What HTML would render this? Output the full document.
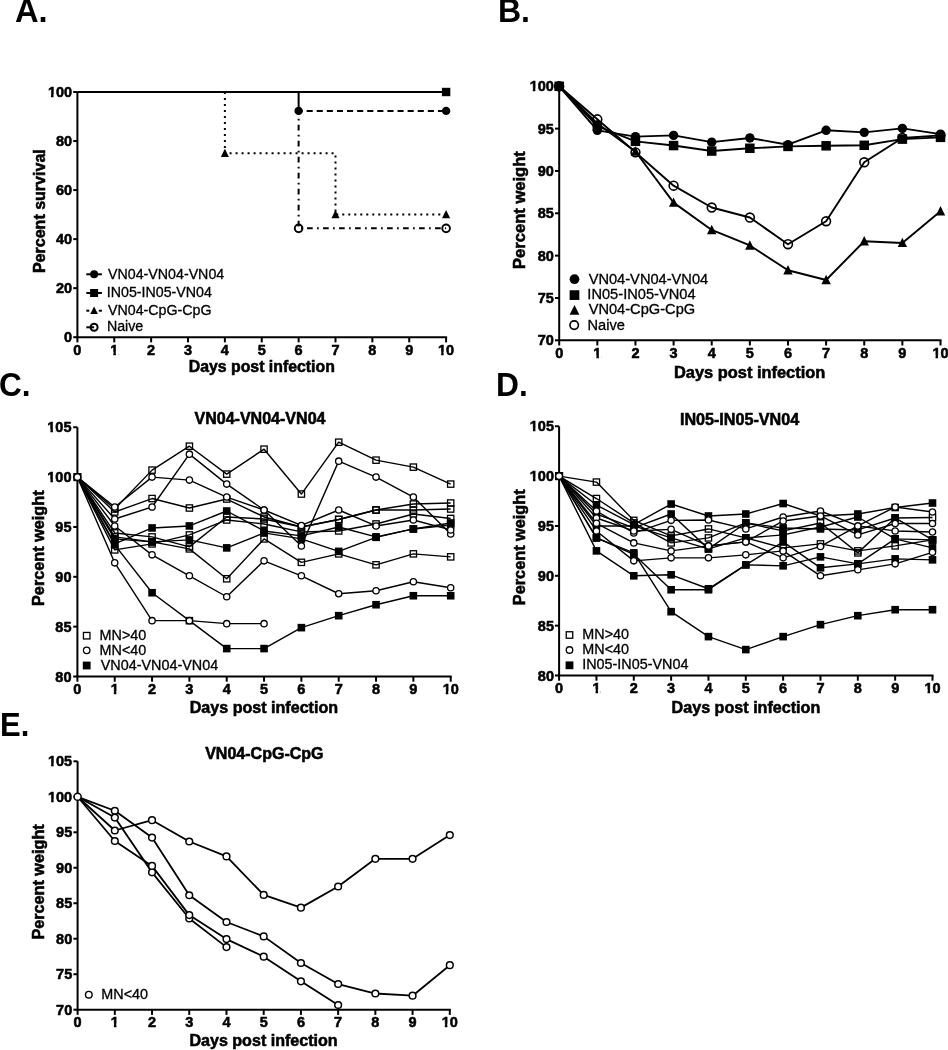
<!DOCTYPE html>
<html><head><meta charset="utf-8"><style>
html,body{margin:0;padding:0;background:#fff;}
body{width:948px;height:1050px;overflow:hidden;}
svg{display:block;filter:grayscale(1);}
text{font-family:"Liberation Sans",sans-serif;fill:#000;}
</style></head><body>
<svg width="948" height="1050" viewBox="0 0 948 1050" font-family="Liberation Sans, sans-serif">
<rect width="948" height="1050" fill="#fff"/>
<text x="14.89" y="22.2" font-size="33" font-weight="bold" textLength="32.66" lengthAdjust="spacingAndGlyphs">A.</text>
<text x="497.96" y="22.2" font-size="33" font-weight="bold" textLength="32.05" lengthAdjust="spacingAndGlyphs">B.</text>
<text x="-0.99" y="395.8" font-size="33" font-weight="bold" textLength="31.57" lengthAdjust="spacingAndGlyphs">C.</text>
<text x="496.08" y="396.2" font-size="33" font-weight="bold" textLength="31.7" lengthAdjust="spacingAndGlyphs">D.</text>
<text x="0.12" y="735.9" font-size="33" font-weight="bold" textLength="29.31" lengthAdjust="spacingAndGlyphs">E.</text>
<line x1="77.4" y1="92" x2="77.4" y2="342.4" stroke="#000" stroke-width="2"/>
<line x1="76.4" y1="337.2" x2="447.1" y2="337.2" stroke="#000" stroke-width="2"/>
<line x1="73.2" y1="337.2" x2="77.4" y2="337.2" stroke="#000" stroke-width="2"/>
<text x="0" y="0" transform="translate(72.1,342.3) scale(1,1.06)" font-size="14.5" font-weight="bold" text-anchor="end" stroke="#000" stroke-width="0.55">0</text>
<line x1="73.2" y1="288.16" x2="77.4" y2="288.16" stroke="#000" stroke-width="2"/>
<text x="0" y="0" transform="translate(72.1,293.26) scale(1,1.06)" font-size="14.5" font-weight="bold" text-anchor="end" stroke="#000" stroke-width="0.55">20</text>
<line x1="73.2" y1="239.12" x2="77.4" y2="239.12" stroke="#000" stroke-width="2"/>
<text x="0" y="0" transform="translate(72.1,244.22) scale(1,1.06)" font-size="14.5" font-weight="bold" text-anchor="end" stroke="#000" stroke-width="0.55">40</text>
<line x1="73.2" y1="190.08" x2="77.4" y2="190.08" stroke="#000" stroke-width="2"/>
<text x="0" y="0" transform="translate(72.1,195.18) scale(1,1.06)" font-size="14.5" font-weight="bold" text-anchor="end" stroke="#000" stroke-width="0.55">60</text>
<line x1="73.2" y1="141.04" x2="77.4" y2="141.04" stroke="#000" stroke-width="2"/>
<text x="0" y="0" transform="translate(72.1,146.14) scale(1,1.06)" font-size="14.5" font-weight="bold" text-anchor="end" stroke="#000" stroke-width="0.55">80</text>
<line x1="73.2" y1="92" x2="77.4" y2="92" stroke="#000" stroke-width="2"/>
<text x="0" y="0" transform="translate(72.1,97.1) scale(1,1.06)" font-size="14.5" font-weight="bold" text-anchor="end" stroke="#000" stroke-width="0.55">100</text>
<text x="0" y="0" transform="translate(77.4,354.6) scale(1,1.06)" font-size="14.5" font-weight="bold" text-anchor="middle" stroke="#000" stroke-width="0.55">0</text>
<line x1="114.27" y1="337.2" x2="114.27" y2="342.4" stroke="#000" stroke-width="2"/>
<text x="0" y="0" transform="translate(114.27,354.6) scale(1,1.06)" font-size="14.5" font-weight="bold" text-anchor="middle" stroke="#000" stroke-width="0.55">1</text>
<line x1="151.14" y1="337.2" x2="151.14" y2="342.4" stroke="#000" stroke-width="2"/>
<text x="0" y="0" transform="translate(151.14,354.6) scale(1,1.06)" font-size="14.5" font-weight="bold" text-anchor="middle" stroke="#000" stroke-width="0.55">2</text>
<line x1="188.01" y1="337.2" x2="188.01" y2="342.4" stroke="#000" stroke-width="2"/>
<text x="0" y="0" transform="translate(188.01,354.6) scale(1,1.06)" font-size="14.5" font-weight="bold" text-anchor="middle" stroke="#000" stroke-width="0.55">3</text>
<line x1="224.88" y1="337.2" x2="224.88" y2="342.4" stroke="#000" stroke-width="2"/>
<text x="0" y="0" transform="translate(224.88,354.6) scale(1,1.06)" font-size="14.5" font-weight="bold" text-anchor="middle" stroke="#000" stroke-width="0.55">4</text>
<line x1="261.75" y1="337.2" x2="261.75" y2="342.4" stroke="#000" stroke-width="2"/>
<text x="0" y="0" transform="translate(261.75,354.6) scale(1,1.06)" font-size="14.5" font-weight="bold" text-anchor="middle" stroke="#000" stroke-width="0.55">5</text>
<line x1="298.62" y1="337.2" x2="298.62" y2="342.4" stroke="#000" stroke-width="2"/>
<text x="0" y="0" transform="translate(298.62,354.6) scale(1,1.06)" font-size="14.5" font-weight="bold" text-anchor="middle" stroke="#000" stroke-width="0.55">6</text>
<line x1="335.49" y1="337.2" x2="335.49" y2="342.4" stroke="#000" stroke-width="2"/>
<text x="0" y="0" transform="translate(335.49,354.6) scale(1,1.06)" font-size="14.5" font-weight="bold" text-anchor="middle" stroke="#000" stroke-width="0.55">7</text>
<line x1="372.36" y1="337.2" x2="372.36" y2="342.4" stroke="#000" stroke-width="2"/>
<text x="0" y="0" transform="translate(372.36,354.6) scale(1,1.06)" font-size="14.5" font-weight="bold" text-anchor="middle" stroke="#000" stroke-width="0.55">8</text>
<line x1="409.23" y1="337.2" x2="409.23" y2="342.4" stroke="#000" stroke-width="2"/>
<text x="0" y="0" transform="translate(409.23,354.6) scale(1,1.06)" font-size="14.5" font-weight="bold" text-anchor="middle" stroke="#000" stroke-width="0.55">9</text>
<line x1="446.1" y1="337.2" x2="446.1" y2="342.4" stroke="#000" stroke-width="2"/>
<text x="0" y="0" transform="translate(446.1,354.6) scale(1,1.06)" font-size="14.5" font-weight="bold" text-anchor="middle" stroke="#000" stroke-width="0.55">10</text>
<text transform="translate(44.7,273.07) rotate(-90)" font-size="16" font-weight="bold" textLength="123.81" lengthAdjust="spacingAndGlyphs" stroke="#000" stroke-width="0.55">Percent survival</text>
<text x="188.74" y="372.2" font-size="16" font-weight="bold" textLength="146.14" lengthAdjust="spacingAndGlyphs" stroke="#000" stroke-width="0.55">Days post infection</text>
<line x1="77.4" y1="92" x2="446.1" y2="92" stroke="#000" stroke-width="2"/>
<line x1="298.62" y1="92" x2="298.62" y2="110.88" stroke="#000" stroke-width="2"/>
<line x1="298.62" y1="110.88" x2="446.1" y2="110.88" stroke="#000" stroke-width="2" stroke-dasharray="6.1 4" stroke-dashoffset="2.1"/>
<polyline points="224.88,92 224.88,153.3 335.49,153.3 335.49,214.6 446.1,214.6" fill="none" stroke="#000" stroke-width="2" stroke-linejoin="round" stroke-dasharray="2 4" stroke-linejoin="miter"/>
<polyline points="298.62,110.88 298.62,228.33 446.1,228.33" fill="none" stroke="#000" stroke-width="2" stroke-linejoin="round" stroke-dasharray="1.7 4.3 5.7 4.3" stroke-dashoffset="-7.85"/>
<rect x="441.9" y="87.8" width="8.4" height="8.4" fill="#000"/>
<circle cx="298.62" cy="110.88" r="4.2" fill="#000"/>
<circle cx="446.1" cy="110.88" r="4.2" fill="#000"/>
<path d="M224.88 148.8L228.93 156.9L220.83 156.9Z" fill="#000"/>
<path d="M335.49 210.1L339.54 218.2L331.44 218.2Z" fill="#000"/>
<path d="M446.1 210.1L450.15 218.2L442.05 218.2Z" fill="#000"/>
<circle cx="298.62" cy="228.33" r="3.85" fill="none" stroke="#000" stroke-width="1.9"/>
<circle cx="446.1" cy="228.33" r="3.85" fill="none" stroke="#000" stroke-width="1.9"/>
<line x1="86.3" y1="274.3" x2="101.9" y2="274.3" stroke="#000" stroke-width="2"/>
<circle cx="94.1" cy="274.3" r="4" fill="#000"/>
<line x1="86.3" y1="293" x2="101.9" y2="293" stroke="#000" stroke-width="2"/>
<rect x="90.1" y="289" width="8" height="8" fill="#000"/>
<line x1="86.3" y1="310.7" x2="89.3" y2="310.7" stroke="#000" stroke-width="2"/>
<line x1="98.8" y1="310.7" x2="101.9" y2="310.7" stroke="#000" stroke-width="2"/>
<path d="M94.1 306.45L97.92 314.1L90.27 314.1Z" fill="#000"/>
<line x1="86.3" y1="327.3" x2="94.1" y2="327.3" stroke="#000" stroke-width="2"/>
<circle cx="94.1" cy="327.3" r="3.5" fill="none" stroke="#000" stroke-width="2"/>
<text x="108.04" y="278.7" font-size="14.23" font-weight="normal" stroke="#000" stroke-width="0.3">VN04-VN04-VN04</text>
<text x="106.79" y="297.4" font-size="14.23" font-weight="normal" stroke="#000" stroke-width="0.3">IN05-IN05-VN04</text>
<text x="108.04" y="314.7" font-size="14.23" font-weight="normal" stroke="#000" stroke-width="0.3">VN04-CpG-CpG</text>
<text x="106.93" y="331.4" font-size="14.23" font-weight="normal" stroke="#000" stroke-width="0.3">Naive</text>
<line x1="559.2" y1="86.29" x2="559.2" y2="345.5" stroke="#000" stroke-width="2"/>
<line x1="558.2" y1="340.3" x2="941.5" y2="340.3" stroke="#000" stroke-width="2"/>
<line x1="555" y1="340.3" x2="559.2" y2="340.3" stroke="#000" stroke-width="2"/>
<text x="0" y="0" transform="translate(553.9,345.4) scale(1,1.06)" font-size="14.5" font-weight="bold" text-anchor="end" stroke="#000" stroke-width="0.55">70</text>
<line x1="555" y1="297.97" x2="559.2" y2="297.97" stroke="#000" stroke-width="2"/>
<text x="0" y="0" transform="translate(553.9,303.07) scale(1,1.06)" font-size="14.5" font-weight="bold" text-anchor="end" stroke="#000" stroke-width="0.55">75</text>
<line x1="555" y1="255.63" x2="559.2" y2="255.63" stroke="#000" stroke-width="2"/>
<text x="0" y="0" transform="translate(553.9,260.73) scale(1,1.06)" font-size="14.5" font-weight="bold" text-anchor="end" stroke="#000" stroke-width="0.55">80</text>
<line x1="555" y1="213.3" x2="559.2" y2="213.3" stroke="#000" stroke-width="2"/>
<text x="0" y="0" transform="translate(553.9,218.4) scale(1,1.06)" font-size="14.5" font-weight="bold" text-anchor="end" stroke="#000" stroke-width="0.55">85</text>
<line x1="555" y1="170.96" x2="559.2" y2="170.96" stroke="#000" stroke-width="2"/>
<text x="0" y="0" transform="translate(553.9,176.06) scale(1,1.06)" font-size="14.5" font-weight="bold" text-anchor="end" stroke="#000" stroke-width="0.55">90</text>
<line x1="555" y1="128.62" x2="559.2" y2="128.62" stroke="#000" stroke-width="2"/>
<text x="0" y="0" transform="translate(553.9,133.72) scale(1,1.06)" font-size="14.5" font-weight="bold" text-anchor="end" stroke="#000" stroke-width="0.55">95</text>
<line x1="555" y1="86.29" x2="559.2" y2="86.29" stroke="#000" stroke-width="2"/>
<text x="0" y="0" transform="translate(553.9,91.39) scale(1,1.06)" font-size="14.5" font-weight="bold" text-anchor="end" stroke="#000" stroke-width="0.55">100</text>
<text x="0" y="0" transform="translate(559.2,358.2) scale(1,1.06)" font-size="14.5" font-weight="bold" text-anchor="middle" stroke="#000" stroke-width="0.55">0</text>
<line x1="597.33" y1="340.3" x2="597.33" y2="345.5" stroke="#000" stroke-width="2"/>
<text x="0" y="0" transform="translate(597.33,358.2) scale(1,1.06)" font-size="14.5" font-weight="bold" text-anchor="middle" stroke="#000" stroke-width="0.55">1</text>
<line x1="635.46" y1="340.3" x2="635.46" y2="345.5" stroke="#000" stroke-width="2"/>
<text x="0" y="0" transform="translate(635.46,358.2) scale(1,1.06)" font-size="14.5" font-weight="bold" text-anchor="middle" stroke="#000" stroke-width="0.55">2</text>
<line x1="673.59" y1="340.3" x2="673.59" y2="345.5" stroke="#000" stroke-width="2"/>
<text x="0" y="0" transform="translate(673.59,358.2) scale(1,1.06)" font-size="14.5" font-weight="bold" text-anchor="middle" stroke="#000" stroke-width="0.55">3</text>
<line x1="711.72" y1="340.3" x2="711.72" y2="345.5" stroke="#000" stroke-width="2"/>
<text x="0" y="0" transform="translate(711.72,358.2) scale(1,1.06)" font-size="14.5" font-weight="bold" text-anchor="middle" stroke="#000" stroke-width="0.55">4</text>
<line x1="749.85" y1="340.3" x2="749.85" y2="345.5" stroke="#000" stroke-width="2"/>
<text x="0" y="0" transform="translate(749.85,358.2) scale(1,1.06)" font-size="14.5" font-weight="bold" text-anchor="middle" stroke="#000" stroke-width="0.55">5</text>
<line x1="787.98" y1="340.3" x2="787.98" y2="345.5" stroke="#000" stroke-width="2"/>
<text x="0" y="0" transform="translate(787.98,358.2) scale(1,1.06)" font-size="14.5" font-weight="bold" text-anchor="middle" stroke="#000" stroke-width="0.55">6</text>
<line x1="826.11" y1="340.3" x2="826.11" y2="345.5" stroke="#000" stroke-width="2"/>
<text x="0" y="0" transform="translate(826.11,358.2) scale(1,1.06)" font-size="14.5" font-weight="bold" text-anchor="middle" stroke="#000" stroke-width="0.55">7</text>
<line x1="864.24" y1="340.3" x2="864.24" y2="345.5" stroke="#000" stroke-width="2"/>
<text x="0" y="0" transform="translate(864.24,358.2) scale(1,1.06)" font-size="14.5" font-weight="bold" text-anchor="middle" stroke="#000" stroke-width="0.55">8</text>
<line x1="902.37" y1="340.3" x2="902.37" y2="345.5" stroke="#000" stroke-width="2"/>
<text x="0" y="0" transform="translate(902.37,358.2) scale(1,1.06)" font-size="14.5" font-weight="bold" text-anchor="middle" stroke="#000" stroke-width="0.55">9</text>
<line x1="940.5" y1="340.3" x2="940.5" y2="345.5" stroke="#000" stroke-width="2"/>
<text x="0" y="0" transform="translate(940.5,358.2) scale(1,1.06)" font-size="14.5" font-weight="bold" text-anchor="middle" stroke="#000" stroke-width="0.55">10</text>
<text transform="translate(525.1,269.01) rotate(-90)" font-size="16" font-weight="bold" textLength="117.91" lengthAdjust="spacingAndGlyphs" stroke="#000" stroke-width="0.55">Percent weight</text>
<text x="673.9" y="377.7" font-size="16" font-weight="bold" textLength="151.42" lengthAdjust="spacingAndGlyphs" stroke="#000" stroke-width="0.55">Days post infection</text>
<polyline points="559.2,86.29 597.33,130.32 635.46,136.58 673.59,135.4 711.72,142.17 749.85,137.94 787.98,144.71 826.11,130.32 864.24,132.35 902.37,128.37 940.5,134.13" fill="none" stroke="#000" stroke-width="1.9" stroke-linejoin="round"/>
<polyline points="559.2,86.29 597.33,126.08 635.46,141.33 673.59,145.56 711.72,151.06 749.85,148.27 787.98,146.41 826.11,145.81 864.24,145.3 902.37,139.12 940.5,137.35" fill="none" stroke="#000" stroke-width="1.9" stroke-linejoin="round"/>
<polyline points="559.2,86.29 597.33,119.31 635.46,152.33 673.59,185.69 711.72,207.54 749.85,217.53 787.98,244.2 826.11,221.25 864.24,162.24 902.37,137.94 940.5,135.4" fill="none" stroke="#000" stroke-width="1.9" stroke-linejoin="round"/>
<polyline points="559.2,86.29 597.33,123.54 635.46,151.49 673.59,202.63 711.72,229.97 749.85,245.47 787.98,270.28 826.11,280.01 864.24,241.24 902.37,242.93 940.5,211.26" fill="none" stroke="#000" stroke-width="1.9" stroke-linejoin="round"/>
<circle cx="559.2" cy="86.29" r="4.7" fill="#000"/>
<circle cx="597.33" cy="130.32" r="4.7" fill="#000"/>
<circle cx="635.46" cy="136.58" r="4.7" fill="#000"/>
<circle cx="673.59" cy="135.4" r="4.7" fill="#000"/>
<circle cx="711.72" cy="142.17" r="4.7" fill="#000"/>
<circle cx="749.85" cy="137.94" r="4.7" fill="#000"/>
<circle cx="787.98" cy="144.71" r="4.7" fill="#000"/>
<circle cx="826.11" cy="130.32" r="4.7" fill="#000"/>
<circle cx="864.24" cy="132.35" r="4.7" fill="#000"/>
<circle cx="902.37" cy="128.37" r="4.7" fill="#000"/>
<circle cx="940.5" cy="134.13" r="4.7" fill="#000"/>
<rect x="554.45" y="81.54" width="9.5" height="9.5" fill="#000"/>
<rect x="592.58" y="121.33" width="9.5" height="9.5" fill="#000"/>
<rect x="630.71" y="136.58" width="9.5" height="9.5" fill="#000"/>
<rect x="668.84" y="140.81" width="9.5" height="9.5" fill="#000"/>
<rect x="706.97" y="146.31" width="9.5" height="9.5" fill="#000"/>
<rect x="745.1" y="143.52" width="9.5" height="9.5" fill="#000"/>
<rect x="783.23" y="141.66" width="9.5" height="9.5" fill="#000"/>
<rect x="821.36" y="141.06" width="9.5" height="9.5" fill="#000"/>
<rect x="859.49" y="140.55" width="9.5" height="9.5" fill="#000"/>
<rect x="897.62" y="134.37" width="9.5" height="9.5" fill="#000"/>
<rect x="935.75" y="132.6" width="9.5" height="9.5" fill="#000"/>
<circle cx="559.2" cy="86.29" r="4.4" fill="none" stroke="#000" stroke-width="1.6"/>
<circle cx="597.33" cy="119.31" r="4.4" fill="none" stroke="#000" stroke-width="1.6"/>
<circle cx="635.46" cy="152.33" r="4.4" fill="none" stroke="#000" stroke-width="1.6"/>
<circle cx="673.59" cy="185.69" r="4.4" fill="none" stroke="#000" stroke-width="1.6"/>
<circle cx="711.72" cy="207.54" r="4.4" fill="none" stroke="#000" stroke-width="1.6"/>
<circle cx="749.85" cy="217.53" r="4.4" fill="none" stroke="#000" stroke-width="1.6"/>
<circle cx="787.98" cy="244.2" r="4.4" fill="none" stroke="#000" stroke-width="1.6"/>
<circle cx="826.11" cy="221.25" r="4.4" fill="none" stroke="#000" stroke-width="1.6"/>
<circle cx="864.24" cy="162.24" r="4.4" fill="none" stroke="#000" stroke-width="1.6"/>
<circle cx="902.37" cy="137.94" r="4.4" fill="none" stroke="#000" stroke-width="1.6"/>
<circle cx="940.5" cy="135.4" r="4.4" fill="none" stroke="#000" stroke-width="1.6"/>
<path d="M559.2 81.09L563.88 90.45L554.52 90.45Z" fill="#000"/>
<path d="M597.33 118.34L602.01 127.7L592.65 127.7Z" fill="#000"/>
<path d="M635.46 146.29L640.14 155.65L630.78 155.65Z" fill="#000"/>
<path d="M673.59 197.43L678.27 206.79L668.91 206.79Z" fill="#000"/>
<path d="M711.72 224.77L716.4 234.13L707.04 234.13Z" fill="#000"/>
<path d="M749.85 240.27L754.53 249.63L745.17 249.63Z" fill="#000"/>
<path d="M787.98 265.08L792.66 274.44L783.3 274.44Z" fill="#000"/>
<path d="M826.11 274.81L830.79 284.17L821.43 284.17Z" fill="#000"/>
<path d="M864.24 236.04L868.92 245.4L859.56 245.4Z" fill="#000"/>
<path d="M902.37 237.73L907.05 247.09L897.69 247.09Z" fill="#000"/>
<path d="M940.5 206.06L945.18 215.42L935.82 215.42Z" fill="#000"/>
<circle cx="574.5" cy="279.2" r="4.85" fill="#000"/>
<rect x="569.65" y="290.25" width="9.7" height="9.7" fill="#000"/>
<path d="M574.5 305.1L579.36 314.82L569.64 314.82Z" fill="#000"/>
<circle cx="574.2" cy="325.1" r="4.25" fill="none" stroke="#000" stroke-width="1.6"/>
<text x="0" y="0" transform="translate(588.64,283.7) scale(1,1.06)" font-size="14.64" font-weight="normal" stroke="#000" stroke-width="0.3">VN04-VN04-VN04</text>
<text x="0" y="0" transform="translate(587.35,299.3) scale(1,1.06)" font-size="14.64" font-weight="normal" stroke="#000" stroke-width="0.3">IN05-IN05-VN04</text>
<text x="0" y="0" transform="translate(588.64,314.4) scale(1,1.06)" font-size="14.64" font-weight="normal" stroke="#000" stroke-width="0.3">VN04-CpG-CpG</text>
<text x="0" y="0" transform="translate(587.5,329.5) scale(1,1.06)" font-size="14.64" font-weight="normal" stroke="#000" stroke-width="0.3">Naive</text>
<line x1="77.4" y1="427.25" x2="77.4" y2="681.7" stroke="#000" stroke-width="2"/>
<line x1="76.4" y1="676.5" x2="451.7" y2="676.5" stroke="#000" stroke-width="2"/>
<line x1="73.2" y1="676.5" x2="77.4" y2="676.5" stroke="#000" stroke-width="2"/>
<text x="0" y="0" transform="translate(71.5,681.6) scale(1,1.06)" font-size="14.5" font-weight="bold" text-anchor="end" stroke="#000" stroke-width="0.55">80</text>
<line x1="73.2" y1="626.65" x2="77.4" y2="626.65" stroke="#000" stroke-width="2"/>
<text x="0" y="0" transform="translate(71.5,631.75) scale(1,1.06)" font-size="14.5" font-weight="bold" text-anchor="end" stroke="#000" stroke-width="0.55">85</text>
<line x1="73.2" y1="576.8" x2="77.4" y2="576.8" stroke="#000" stroke-width="2"/>
<text x="0" y="0" transform="translate(71.5,581.9) scale(1,1.06)" font-size="14.5" font-weight="bold" text-anchor="end" stroke="#000" stroke-width="0.55">90</text>
<line x1="73.2" y1="526.95" x2="77.4" y2="526.95" stroke="#000" stroke-width="2"/>
<text x="0" y="0" transform="translate(71.5,532.05) scale(1,1.06)" font-size="14.5" font-weight="bold" text-anchor="end" stroke="#000" stroke-width="0.55">95</text>
<line x1="73.2" y1="477.1" x2="77.4" y2="477.1" stroke="#000" stroke-width="2"/>
<text x="0" y="0" transform="translate(71.5,482.2) scale(1,1.06)" font-size="14.5" font-weight="bold" text-anchor="end" stroke="#000" stroke-width="0.55">100</text>
<line x1="73.2" y1="427.25" x2="77.4" y2="427.25" stroke="#000" stroke-width="2"/>
<text x="0" y="0" transform="translate(71.5,432.35) scale(1,1.06)" font-size="14.5" font-weight="bold" text-anchor="end" stroke="#000" stroke-width="0.55">105</text>
<text x="0" y="0" transform="translate(77.4,694) scale(1,1.06)" font-size="14.5" font-weight="bold" text-anchor="middle" stroke="#000" stroke-width="0.55">0</text>
<line x1="114.73" y1="676.5" x2="114.73" y2="681.7" stroke="#000" stroke-width="2"/>
<text x="0" y="0" transform="translate(114.73,694) scale(1,1.06)" font-size="14.5" font-weight="bold" text-anchor="middle" stroke="#000" stroke-width="0.55">1</text>
<line x1="152.06" y1="676.5" x2="152.06" y2="681.7" stroke="#000" stroke-width="2"/>
<text x="0" y="0" transform="translate(152.06,694) scale(1,1.06)" font-size="14.5" font-weight="bold" text-anchor="middle" stroke="#000" stroke-width="0.55">2</text>
<line x1="189.39" y1="676.5" x2="189.39" y2="681.7" stroke="#000" stroke-width="2"/>
<text x="0" y="0" transform="translate(189.39,694) scale(1,1.06)" font-size="14.5" font-weight="bold" text-anchor="middle" stroke="#000" stroke-width="0.55">3</text>
<line x1="226.72" y1="676.5" x2="226.72" y2="681.7" stroke="#000" stroke-width="2"/>
<text x="0" y="0" transform="translate(226.72,694) scale(1,1.06)" font-size="14.5" font-weight="bold" text-anchor="middle" stroke="#000" stroke-width="0.55">4</text>
<line x1="264.05" y1="676.5" x2="264.05" y2="681.7" stroke="#000" stroke-width="2"/>
<text x="0" y="0" transform="translate(264.05,694) scale(1,1.06)" font-size="14.5" font-weight="bold" text-anchor="middle" stroke="#000" stroke-width="0.55">5</text>
<line x1="301.38" y1="676.5" x2="301.38" y2="681.7" stroke="#000" stroke-width="2"/>
<text x="0" y="0" transform="translate(301.38,694) scale(1,1.06)" font-size="14.5" font-weight="bold" text-anchor="middle" stroke="#000" stroke-width="0.55">6</text>
<line x1="338.71" y1="676.5" x2="338.71" y2="681.7" stroke="#000" stroke-width="2"/>
<text x="0" y="0" transform="translate(338.71,694) scale(1,1.06)" font-size="14.5" font-weight="bold" text-anchor="middle" stroke="#000" stroke-width="0.55">7</text>
<line x1="376.04" y1="676.5" x2="376.04" y2="681.7" stroke="#000" stroke-width="2"/>
<text x="0" y="0" transform="translate(376.04,694) scale(1,1.06)" font-size="14.5" font-weight="bold" text-anchor="middle" stroke="#000" stroke-width="0.55">8</text>
<line x1="413.37" y1="676.5" x2="413.37" y2="681.7" stroke="#000" stroke-width="2"/>
<text x="0" y="0" transform="translate(413.37,694) scale(1,1.06)" font-size="14.5" font-weight="bold" text-anchor="middle" stroke="#000" stroke-width="0.55">9</text>
<line x1="450.7" y1="676.5" x2="450.7" y2="681.7" stroke="#000" stroke-width="2"/>
<text x="0" y="0" transform="translate(450.7,694) scale(1,1.06)" font-size="14.5" font-weight="bold" text-anchor="middle" stroke="#000" stroke-width="0.55">10</text>
<text transform="translate(44.1,605.99) rotate(-90)" font-size="16" font-weight="bold" textLength="115.59" lengthAdjust="spacingAndGlyphs" stroke="#000" stroke-width="0.55">Percent weight</text>
<text x="189.72" y="712.6" font-size="16" font-weight="bold" textLength="148.37" lengthAdjust="spacingAndGlyphs" stroke="#000" stroke-width="0.55">Days post infection</text>
<text x="194.49" y="424" font-size="16" font-weight="bold" textLength="131" lengthAdjust="spacingAndGlyphs" stroke="#000" stroke-width="0.55">VN04-VN04-VN04</text>
<polyline points="77.4,477.1 114.73,509 152.06,470.12 189.39,446.19 226.72,474.11 264.05,449.18 301.38,494.05 338.71,442.2 376.04,460.15 413.37,467.13 450.7,484.08" fill="none" stroke="#000" stroke-width="1.4" stroke-linejoin="round"/>
<polyline points="77.4,477.1 114.73,512 152.06,498.54 189.39,508.01 226.72,499.03 264.05,516.98 301.38,526.95 338.71,519.47 376.04,510 413.37,504.02 450.7,503.02" fill="none" stroke="#000" stroke-width="1.4" stroke-linejoin="round"/>
<polyline points="77.4,477.1 114.73,549.88 152.06,543.9 189.39,534.93 226.72,519.97 264.05,523.96 301.38,531.93 338.71,530.94 376.04,523.96 413.37,513.99 450.7,518.48" fill="none" stroke="#000" stroke-width="1.4" stroke-linejoin="round"/>
<polyline points="77.4,477.1 114.73,532.93 152.06,536.92 189.39,546.89 226.72,516.98 264.05,518.97 301.38,526.95 338.71,519.47 376.04,510 413.37,510 450.7,509" fill="none" stroke="#000" stroke-width="1.4" stroke-linejoin="round"/>
<polyline points="77.4,477.1 114.73,536.92 152.06,541.9 189.39,548.88 226.72,578.79 264.05,538.91 301.38,562.34 338.71,553.87 376.04,564.84 413.37,553.87 450.7,556.86" fill="none" stroke="#000" stroke-width="1.4" stroke-linejoin="round"/>
<polyline points="77.4,477.1 114.73,543.9 152.06,527.95 189.39,525.95 226.72,511 264.05,530.94 301.38,535.92 338.71,526.95 376.04,536.92 413.37,528.94 450.7,522.96" fill="none" stroke="#000" stroke-width="1.4" stroke-linejoin="round"/>
<polyline points="77.4,477.1 114.73,538.91 152.06,541.9 189.39,539.91 226.72,547.89 264.05,532.93 301.38,538.91 338.71,551.38 376.04,537.32 413.37,528.94 450.7,524.96" fill="none" stroke="#000" stroke-width="1.4" stroke-linejoin="round"/>
<polyline points="77.4,477.1 114.73,544.9 152.06,592.75 189.39,620.67 226.72,648.58 264.05,648.58 301.38,627.65 338.71,615.68 376.04,604.72 413.37,595.74 450.7,595.74" fill="none" stroke="#000" stroke-width="1.4" stroke-linejoin="round"/>
<polyline points="77.4,477.1 114.73,507.01 152.06,477.1 189.39,480.09 226.72,497.04 264.05,510 301.38,545.89 338.71,461.15 376.04,477.1 413.37,497.04 450.7,533.93" fill="none" stroke="#000" stroke-width="1.4" stroke-linejoin="round"/>
<polyline points="77.4,477.1 114.73,518.97 152.06,507.01 189.39,454.17 226.72,484.08 264.05,510 301.38,525.45 338.71,510 376.04,525.95 413.37,519.97 450.7,529.94" fill="none" stroke="#000" stroke-width="1.4" stroke-linejoin="round"/>
<polyline points="77.4,477.1 114.73,562.84 152.06,620.67 189.39,620.67 226.72,623.66 264.05,623.66" fill="none" stroke="#000" stroke-width="1.4" stroke-linejoin="round"/>
<polyline points="77.4,477.1 114.73,525.95 152.06,554.87 189.39,575.8 226.72,596.74 264.05,560.85 301.38,575.8 338.71,593.75 376.04,590.76 413.37,581.78 450.7,587.77" fill="none" stroke="#000" stroke-width="1.4" stroke-linejoin="round"/>
<rect x="111.58" y="505.85" width="6.3" height="6.3" fill="none" stroke="#000" stroke-width="1.3"/>
<rect x="148.91" y="466.97" width="6.3" height="6.3" fill="none" stroke="#000" stroke-width="1.3"/>
<rect x="186.24" y="443.04" width="6.3" height="6.3" fill="none" stroke="#000" stroke-width="1.3"/>
<rect x="223.57" y="470.96" width="6.3" height="6.3" fill="none" stroke="#000" stroke-width="1.3"/>
<rect x="260.9" y="446.03" width="6.3" height="6.3" fill="none" stroke="#000" stroke-width="1.3"/>
<rect x="298.23" y="490.9" width="6.3" height="6.3" fill="none" stroke="#000" stroke-width="1.3"/>
<rect x="335.56" y="439.06" width="6.3" height="6.3" fill="none" stroke="#000" stroke-width="1.3"/>
<rect x="372.89" y="457" width="6.3" height="6.3" fill="none" stroke="#000" stroke-width="1.3"/>
<rect x="410.22" y="463.98" width="6.3" height="6.3" fill="none" stroke="#000" stroke-width="1.3"/>
<rect x="447.55" y="480.93" width="6.3" height="6.3" fill="none" stroke="#000" stroke-width="1.3"/>
<rect x="111.58" y="508.85" width="6.3" height="6.3" fill="none" stroke="#000" stroke-width="1.3"/>
<rect x="148.91" y="495.39" width="6.3" height="6.3" fill="none" stroke="#000" stroke-width="1.3"/>
<rect x="186.24" y="504.86" width="6.3" height="6.3" fill="none" stroke="#000" stroke-width="1.3"/>
<rect x="223.57" y="495.88" width="6.3" height="6.3" fill="none" stroke="#000" stroke-width="1.3"/>
<rect x="260.9" y="513.83" width="6.3" height="6.3" fill="none" stroke="#000" stroke-width="1.3"/>
<rect x="298.23" y="523.8" width="6.3" height="6.3" fill="none" stroke="#000" stroke-width="1.3"/>
<rect x="335.56" y="516.32" width="6.3" height="6.3" fill="none" stroke="#000" stroke-width="1.3"/>
<rect x="372.89" y="506.85" width="6.3" height="6.3" fill="none" stroke="#000" stroke-width="1.3"/>
<rect x="410.22" y="500.87" width="6.3" height="6.3" fill="none" stroke="#000" stroke-width="1.3"/>
<rect x="447.55" y="499.87" width="6.3" height="6.3" fill="none" stroke="#000" stroke-width="1.3"/>
<rect x="111.58" y="546.73" width="6.3" height="6.3" fill="none" stroke="#000" stroke-width="1.3"/>
<rect x="148.91" y="540.75" width="6.3" height="6.3" fill="none" stroke="#000" stroke-width="1.3"/>
<rect x="186.24" y="531.78" width="6.3" height="6.3" fill="none" stroke="#000" stroke-width="1.3"/>
<rect x="223.57" y="516.82" width="6.3" height="6.3" fill="none" stroke="#000" stroke-width="1.3"/>
<rect x="260.9" y="520.81" width="6.3" height="6.3" fill="none" stroke="#000" stroke-width="1.3"/>
<rect x="298.23" y="528.78" width="6.3" height="6.3" fill="none" stroke="#000" stroke-width="1.3"/>
<rect x="335.56" y="527.79" width="6.3" height="6.3" fill="none" stroke="#000" stroke-width="1.3"/>
<rect x="372.89" y="520.81" width="6.3" height="6.3" fill="none" stroke="#000" stroke-width="1.3"/>
<rect x="410.22" y="510.84" width="6.3" height="6.3" fill="none" stroke="#000" stroke-width="1.3"/>
<rect x="447.55" y="515.33" width="6.3" height="6.3" fill="none" stroke="#000" stroke-width="1.3"/>
<rect x="111.58" y="529.78" width="6.3" height="6.3" fill="none" stroke="#000" stroke-width="1.3"/>
<rect x="148.91" y="533.77" width="6.3" height="6.3" fill="none" stroke="#000" stroke-width="1.3"/>
<rect x="186.24" y="543.74" width="6.3" height="6.3" fill="none" stroke="#000" stroke-width="1.3"/>
<rect x="223.57" y="513.83" width="6.3" height="6.3" fill="none" stroke="#000" stroke-width="1.3"/>
<rect x="260.9" y="515.82" width="6.3" height="6.3" fill="none" stroke="#000" stroke-width="1.3"/>
<rect x="298.23" y="523.8" width="6.3" height="6.3" fill="none" stroke="#000" stroke-width="1.3"/>
<rect x="335.56" y="516.32" width="6.3" height="6.3" fill="none" stroke="#000" stroke-width="1.3"/>
<rect x="372.89" y="506.85" width="6.3" height="6.3" fill="none" stroke="#000" stroke-width="1.3"/>
<rect x="410.22" y="506.85" width="6.3" height="6.3" fill="none" stroke="#000" stroke-width="1.3"/>
<rect x="447.55" y="505.85" width="6.3" height="6.3" fill="none" stroke="#000" stroke-width="1.3"/>
<rect x="111.58" y="533.77" width="6.3" height="6.3" fill="none" stroke="#000" stroke-width="1.3"/>
<rect x="148.91" y="538.75" width="6.3" height="6.3" fill="none" stroke="#000" stroke-width="1.3"/>
<rect x="186.24" y="545.73" width="6.3" height="6.3" fill="none" stroke="#000" stroke-width="1.3"/>
<rect x="223.57" y="575.64" width="6.3" height="6.3" fill="none" stroke="#000" stroke-width="1.3"/>
<rect x="260.9" y="535.76" width="6.3" height="6.3" fill="none" stroke="#000" stroke-width="1.3"/>
<rect x="298.23" y="559.19" width="6.3" height="6.3" fill="none" stroke="#000" stroke-width="1.3"/>
<rect x="335.56" y="550.72" width="6.3" height="6.3" fill="none" stroke="#000" stroke-width="1.3"/>
<rect x="372.89" y="561.69" width="6.3" height="6.3" fill="none" stroke="#000" stroke-width="1.3"/>
<rect x="410.22" y="550.72" width="6.3" height="6.3" fill="none" stroke="#000" stroke-width="1.3"/>
<rect x="447.55" y="553.71" width="6.3" height="6.3" fill="none" stroke="#000" stroke-width="1.3"/>
<rect x="110.93" y="540.1" width="7.6" height="7.6" fill="#000"/>
<rect x="148.26" y="524.15" width="7.6" height="7.6" fill="#000"/>
<rect x="185.59" y="522.15" width="7.6" height="7.6" fill="#000"/>
<rect x="222.92" y="507.2" width="7.6" height="7.6" fill="#000"/>
<rect x="260.25" y="527.14" width="7.6" height="7.6" fill="#000"/>
<rect x="297.58" y="532.12" width="7.6" height="7.6" fill="#000"/>
<rect x="334.91" y="523.15" width="7.6" height="7.6" fill="#000"/>
<rect x="372.24" y="533.12" width="7.6" height="7.6" fill="#000"/>
<rect x="409.57" y="525.14" width="7.6" height="7.6" fill="#000"/>
<rect x="446.9" y="519.16" width="7.6" height="7.6" fill="#000"/>
<rect x="110.93" y="535.11" width="7.6" height="7.6" fill="#000"/>
<rect x="148.26" y="538.11" width="7.6" height="7.6" fill="#000"/>
<rect x="185.59" y="536.11" width="7.6" height="7.6" fill="#000"/>
<rect x="222.92" y="544.09" width="7.6" height="7.6" fill="#000"/>
<rect x="260.25" y="529.13" width="7.6" height="7.6" fill="#000"/>
<rect x="297.58" y="535.11" width="7.6" height="7.6" fill="#000"/>
<rect x="334.91" y="547.58" width="7.6" height="7.6" fill="#000"/>
<rect x="372.24" y="533.52" width="7.6" height="7.6" fill="#000"/>
<rect x="409.57" y="525.14" width="7.6" height="7.6" fill="#000"/>
<rect x="446.9" y="521.16" width="7.6" height="7.6" fill="#000"/>
<rect x="110.93" y="541.1" width="7.6" height="7.6" fill="#000"/>
<rect x="148.26" y="588.95" width="7.6" height="7.6" fill="#000"/>
<rect x="185.59" y="616.87" width="7.6" height="7.6" fill="#000"/>
<rect x="222.92" y="644.78" width="7.6" height="7.6" fill="#000"/>
<rect x="260.25" y="644.78" width="7.6" height="7.6" fill="#000"/>
<rect x="297.58" y="623.85" width="7.6" height="7.6" fill="#000"/>
<rect x="334.91" y="611.88" width="7.6" height="7.6" fill="#000"/>
<rect x="372.24" y="600.92" width="7.6" height="7.6" fill="#000"/>
<rect x="409.57" y="591.94" width="7.6" height="7.6" fill="#000"/>
<rect x="446.9" y="591.94" width="7.6" height="7.6" fill="#000"/>
<circle cx="114.73" cy="507.01" r="3.15" fill="#fff" stroke="#000" stroke-width="1.3"/>
<circle cx="152.06" cy="477.1" r="3.15" fill="#fff" stroke="#000" stroke-width="1.3"/>
<circle cx="189.39" cy="480.09" r="3.15" fill="#fff" stroke="#000" stroke-width="1.3"/>
<circle cx="226.72" cy="497.04" r="3.15" fill="#fff" stroke="#000" stroke-width="1.3"/>
<circle cx="264.05" cy="510" r="3.15" fill="#fff" stroke="#000" stroke-width="1.3"/>
<circle cx="301.38" cy="545.89" r="3.15" fill="#fff" stroke="#000" stroke-width="1.3"/>
<circle cx="338.71" cy="461.15" r="3.15" fill="#fff" stroke="#000" stroke-width="1.3"/>
<circle cx="376.04" cy="477.1" r="3.15" fill="#fff" stroke="#000" stroke-width="1.3"/>
<circle cx="413.37" cy="497.04" r="3.15" fill="#fff" stroke="#000" stroke-width="1.3"/>
<circle cx="450.7" cy="533.93" r="3.15" fill="#fff" stroke="#000" stroke-width="1.3"/>
<circle cx="114.73" cy="518.97" r="3.15" fill="#fff" stroke="#000" stroke-width="1.3"/>
<circle cx="152.06" cy="507.01" r="3.15" fill="#fff" stroke="#000" stroke-width="1.3"/>
<circle cx="189.39" cy="454.17" r="3.15" fill="#fff" stroke="#000" stroke-width="1.3"/>
<circle cx="226.72" cy="484.08" r="3.15" fill="#fff" stroke="#000" stroke-width="1.3"/>
<circle cx="264.05" cy="510" r="3.15" fill="#fff" stroke="#000" stroke-width="1.3"/>
<circle cx="301.38" cy="525.45" r="3.15" fill="#fff" stroke="#000" stroke-width="1.3"/>
<circle cx="338.71" cy="510" r="3.15" fill="#fff" stroke="#000" stroke-width="1.3"/>
<circle cx="376.04" cy="525.95" r="3.15" fill="#fff" stroke="#000" stroke-width="1.3"/>
<circle cx="413.37" cy="519.97" r="3.15" fill="#fff" stroke="#000" stroke-width="1.3"/>
<circle cx="450.7" cy="529.94" r="3.15" fill="#fff" stroke="#000" stroke-width="1.3"/>
<circle cx="114.73" cy="562.84" r="3.15" fill="#fff" stroke="#000" stroke-width="1.3"/>
<circle cx="152.06" cy="620.67" r="3.15" fill="#fff" stroke="#000" stroke-width="1.3"/>
<circle cx="189.39" cy="620.67" r="3.15" fill="#fff" stroke="#000" stroke-width="1.3"/>
<circle cx="226.72" cy="623.66" r="3.15" fill="#fff" stroke="#000" stroke-width="1.3"/>
<circle cx="264.05" cy="623.66" r="3.15" fill="#fff" stroke="#000" stroke-width="1.3"/>
<circle cx="114.73" cy="525.95" r="3.15" fill="#fff" stroke="#000" stroke-width="1.3"/>
<circle cx="152.06" cy="554.87" r="3.15" fill="#fff" stroke="#000" stroke-width="1.3"/>
<circle cx="189.39" cy="575.8" r="3.15" fill="#fff" stroke="#000" stroke-width="1.3"/>
<circle cx="226.72" cy="596.74" r="3.15" fill="#fff" stroke="#000" stroke-width="1.3"/>
<circle cx="264.05" cy="560.85" r="3.15" fill="#fff" stroke="#000" stroke-width="1.3"/>
<circle cx="301.38" cy="575.8" r="3.15" fill="#fff" stroke="#000" stroke-width="1.3"/>
<circle cx="338.71" cy="593.75" r="3.15" fill="#fff" stroke="#000" stroke-width="1.3"/>
<circle cx="376.04" cy="590.76" r="3.15" fill="#fff" stroke="#000" stroke-width="1.3"/>
<circle cx="413.37" cy="581.78" r="3.15" fill="#fff" stroke="#000" stroke-width="1.3"/>
<circle cx="450.7" cy="587.77" r="3.15" fill="#fff" stroke="#000" stroke-width="1.3"/>
<rect x="73.3" y="473" width="8.2" height="8.2" fill="#000"/>
<circle cx="77.4" cy="477.1" r="3.35" fill="#fff" stroke="#000" stroke-width="1.3"/>
<rect x="83.45" y="632.45" width="6.5" height="6.5" fill="none" stroke="#000" stroke-width="1.3"/>
<circle cx="86.7" cy="650.3" r="3.25" fill="#fff" stroke="#000" stroke-width="1.3"/>
<rect x="82.8" y="661.6" width="7.8" height="7.8" fill="#000"/>
<text x="99.62" y="639.9" font-size="14.38" font-weight="normal" stroke="#000" stroke-width="0.3">MN&gt;40</text>
<text x="99.62" y="654.6" font-size="14.38" font-weight="normal" stroke="#000" stroke-width="0.3">MN&lt;40</text>
<text x="100.74" y="669.5" font-size="14.38" font-weight="normal" stroke="#000" stroke-width="0.3">VN04-VN04-VN04</text>
<line x1="559.1" y1="426.25" x2="559.1" y2="680.7" stroke="#000" stroke-width="2"/>
<line x1="558.1" y1="675.5" x2="933.5" y2="675.5" stroke="#000" stroke-width="2"/>
<line x1="554.9" y1="675.5" x2="559.1" y2="675.5" stroke="#000" stroke-width="2"/>
<text x="0" y="0" transform="translate(554,680.6) scale(1,1.06)" font-size="14.5" font-weight="bold" text-anchor="end" stroke="#000" stroke-width="0.55">80</text>
<line x1="554.9" y1="625.65" x2="559.1" y2="625.65" stroke="#000" stroke-width="2"/>
<text x="0" y="0" transform="translate(554,630.75) scale(1,1.06)" font-size="14.5" font-weight="bold" text-anchor="end" stroke="#000" stroke-width="0.55">85</text>
<line x1="554.9" y1="575.8" x2="559.1" y2="575.8" stroke="#000" stroke-width="2"/>
<text x="0" y="0" transform="translate(554,580.9) scale(1,1.06)" font-size="14.5" font-weight="bold" text-anchor="end" stroke="#000" stroke-width="0.55">90</text>
<line x1="554.9" y1="525.95" x2="559.1" y2="525.95" stroke="#000" stroke-width="2"/>
<text x="0" y="0" transform="translate(554,531.05) scale(1,1.06)" font-size="14.5" font-weight="bold" text-anchor="end" stroke="#000" stroke-width="0.55">95</text>
<line x1="554.9" y1="476.1" x2="559.1" y2="476.1" stroke="#000" stroke-width="2"/>
<text x="0" y="0" transform="translate(554,481.2) scale(1,1.06)" font-size="14.5" font-weight="bold" text-anchor="end" stroke="#000" stroke-width="0.55">100</text>
<line x1="554.9" y1="426.25" x2="559.1" y2="426.25" stroke="#000" stroke-width="2"/>
<text x="0" y="0" transform="translate(554,431.35) scale(1,1.06)" font-size="14.5" font-weight="bold" text-anchor="end" stroke="#000" stroke-width="0.55">105</text>
<text x="0" y="0" transform="translate(559.1,692.6) scale(1,1.06)" font-size="14.5" font-weight="bold" text-anchor="middle" stroke="#000" stroke-width="0.55">0</text>
<line x1="596.44" y1="675.5" x2="596.44" y2="680.7" stroke="#000" stroke-width="2"/>
<text x="0" y="0" transform="translate(596.44,692.6) scale(1,1.06)" font-size="14.5" font-weight="bold" text-anchor="middle" stroke="#000" stroke-width="0.55">1</text>
<line x1="633.78" y1="675.5" x2="633.78" y2="680.7" stroke="#000" stroke-width="2"/>
<text x="0" y="0" transform="translate(633.78,692.6) scale(1,1.06)" font-size="14.5" font-weight="bold" text-anchor="middle" stroke="#000" stroke-width="0.55">2</text>
<line x1="671.12" y1="675.5" x2="671.12" y2="680.7" stroke="#000" stroke-width="2"/>
<text x="0" y="0" transform="translate(671.12,692.6) scale(1,1.06)" font-size="14.5" font-weight="bold" text-anchor="middle" stroke="#000" stroke-width="0.55">3</text>
<line x1="708.46" y1="675.5" x2="708.46" y2="680.7" stroke="#000" stroke-width="2"/>
<text x="0" y="0" transform="translate(708.46,692.6) scale(1,1.06)" font-size="14.5" font-weight="bold" text-anchor="middle" stroke="#000" stroke-width="0.55">4</text>
<line x1="745.8" y1="675.5" x2="745.8" y2="680.7" stroke="#000" stroke-width="2"/>
<text x="0" y="0" transform="translate(745.8,692.6) scale(1,1.06)" font-size="14.5" font-weight="bold" text-anchor="middle" stroke="#000" stroke-width="0.55">5</text>
<line x1="783.14" y1="675.5" x2="783.14" y2="680.7" stroke="#000" stroke-width="2"/>
<text x="0" y="0" transform="translate(783.14,692.6) scale(1,1.06)" font-size="14.5" font-weight="bold" text-anchor="middle" stroke="#000" stroke-width="0.55">6</text>
<line x1="820.48" y1="675.5" x2="820.48" y2="680.7" stroke="#000" stroke-width="2"/>
<text x="0" y="0" transform="translate(820.48,692.6) scale(1,1.06)" font-size="14.5" font-weight="bold" text-anchor="middle" stroke="#000" stroke-width="0.55">7</text>
<line x1="857.82" y1="675.5" x2="857.82" y2="680.7" stroke="#000" stroke-width="2"/>
<text x="0" y="0" transform="translate(857.82,692.6) scale(1,1.06)" font-size="14.5" font-weight="bold" text-anchor="middle" stroke="#000" stroke-width="0.55">8</text>
<line x1="895.16" y1="675.5" x2="895.16" y2="680.7" stroke="#000" stroke-width="2"/>
<text x="0" y="0" transform="translate(895.16,692.6) scale(1,1.06)" font-size="14.5" font-weight="bold" text-anchor="middle" stroke="#000" stroke-width="0.55">9</text>
<line x1="932.5" y1="675.5" x2="932.5" y2="680.7" stroke="#000" stroke-width="2"/>
<text x="0" y="0" transform="translate(932.5,692.6) scale(1,1.06)" font-size="14.5" font-weight="bold" text-anchor="middle" stroke="#000" stroke-width="0.55">10</text>
<text transform="translate(525.1,605.19) rotate(-90)" font-size="16" font-weight="bold" textLength="115.89" lengthAdjust="spacingAndGlyphs" stroke="#000" stroke-width="0.55">Percent weight</text>
<text x="671.62" y="712.7" font-size="16" font-weight="bold" textLength="148.68" lengthAdjust="spacingAndGlyphs" stroke="#000" stroke-width="0.55">Days post infection</text>
<text x="679.92" y="424.8" font-size="16" font-weight="bold" textLength="119.27" lengthAdjust="spacingAndGlyphs" stroke="#000" stroke-width="0.55">IN05-IN05-VN04</text>
<polyline points="559.1,476.1 596.44,482.08 633.78,520.37 671.12,535.92 708.46,528.94 745.8,537.91 783.14,547.88 820.48,543.9 857.82,550.88 895.16,545.89 932.5,539.91" fill="none" stroke="#000" stroke-width="1.4" stroke-linejoin="round"/>
<polyline points="559.1,476.1 596.44,498.53 633.78,522.96 671.12,542.9 708.46,537.91 745.8,522.96 783.14,530.93 820.48,522.96 857.82,552.87 895.16,517.97 932.5,517.48" fill="none" stroke="#000" stroke-width="1.4" stroke-linejoin="round"/>
<polyline points="559.1,476.1 596.44,505.01 633.78,524.55 671.12,504.02 708.46,515.98 745.8,513.99 783.14,503.52 820.48,515.98 857.82,513.99 895.16,507.51 932.5,503.02" fill="none" stroke="#000" stroke-width="1.4" stroke-linejoin="round"/>
<polyline points="559.1,476.1 596.44,511 633.78,532.93 671.12,520.37 708.46,519.97 745.8,528.94 783.14,516.98 820.48,511 857.82,525.95 895.16,507.01 932.5,511.99" fill="none" stroke="#000" stroke-width="1.4" stroke-linejoin="round"/>
<polyline points="559.1,476.1 596.44,517.97 633.78,530.93 671.12,529.34 708.46,545.89 745.8,541.9 783.14,520.97 820.48,515.98 857.82,534.92 895.16,523.46 932.5,523.46" fill="none" stroke="#000" stroke-width="1.4" stroke-linejoin="round"/>
<polyline points="559.1,476.1 596.44,523.26 633.78,542.9 671.12,550.88 708.46,545.89 745.8,541.9 783.14,557.85 820.48,546.39 857.82,525.95 895.16,530.93 932.5,531.93" fill="none" stroke="#000" stroke-width="1.4" stroke-linejoin="round"/>
<polyline points="559.1,476.1 596.44,530.93 633.78,560.85 671.12,557.85 708.46,557.85 745.8,554.86 783.14,550.88 820.48,575.8 857.82,569.82 895.16,563.84 932.5,552.37" fill="none" stroke="#000" stroke-width="1.4" stroke-linejoin="round"/>
<polyline points="559.1,476.1 596.44,537.91 633.78,554.36 671.12,589.76 708.46,589.76 745.8,564.83 783.14,565.83 820.48,556.86 857.82,563.84 895.16,558.85 932.5,559.85" fill="none" stroke="#000" stroke-width="1.4" stroke-linejoin="round"/>
<polyline points="559.1,476.1 596.44,550.88 633.78,575.8 671.12,574.8 708.46,588.76 745.8,564.83 783.14,541.9 820.48,567.82 857.82,563.84 895.16,538.91 932.5,547.88" fill="none" stroke="#000" stroke-width="1.4" stroke-linejoin="round"/>
<polyline points="559.1,476.1 596.44,537.91 633.78,552.87 671.12,611.69 708.46,636.62 745.8,649.58 783.14,636.62 820.48,624.65 857.82,615.68 895.16,609.7 932.5,609.7" fill="none" stroke="#000" stroke-width="1.4" stroke-linejoin="round"/>
<polyline points="559.1,476.1 596.44,513.99 633.78,527.94 671.12,513.99 708.46,548.88 745.8,537.91 783.14,534.92 820.48,526.95 857.82,516.98 895.16,538.91 932.5,539.91" fill="none" stroke="#000" stroke-width="1.4" stroke-linejoin="round"/>
<polyline points="559.1,476.1 596.44,525.95 633.78,525.95 671.12,537.91 708.46,548.88 745.8,522.96 783.14,527.94 820.48,528.94 857.82,529.94 895.16,517.97 932.5,539.91" fill="none" stroke="#000" stroke-width="1.4" stroke-linejoin="round"/>
<rect x="593.29" y="478.93" width="6.3" height="6.3" fill="none" stroke="#000" stroke-width="1.3"/>
<rect x="630.63" y="517.22" width="6.3" height="6.3" fill="none" stroke="#000" stroke-width="1.3"/>
<rect x="667.97" y="532.77" width="6.3" height="6.3" fill="none" stroke="#000" stroke-width="1.3"/>
<rect x="705.31" y="525.79" width="6.3" height="6.3" fill="none" stroke="#000" stroke-width="1.3"/>
<rect x="742.65" y="534.76" width="6.3" height="6.3" fill="none" stroke="#000" stroke-width="1.3"/>
<rect x="779.99" y="544.73" width="6.3" height="6.3" fill="none" stroke="#000" stroke-width="1.3"/>
<rect x="817.33" y="540.75" width="6.3" height="6.3" fill="none" stroke="#000" stroke-width="1.3"/>
<rect x="854.67" y="547.73" width="6.3" height="6.3" fill="none" stroke="#000" stroke-width="1.3"/>
<rect x="892.01" y="542.74" width="6.3" height="6.3" fill="none" stroke="#000" stroke-width="1.3"/>
<rect x="929.35" y="536.76" width="6.3" height="6.3" fill="none" stroke="#000" stroke-width="1.3"/>
<rect x="593.29" y="495.38" width="6.3" height="6.3" fill="none" stroke="#000" stroke-width="1.3"/>
<rect x="630.63" y="519.81" width="6.3" height="6.3" fill="none" stroke="#000" stroke-width="1.3"/>
<rect x="667.97" y="539.75" width="6.3" height="6.3" fill="none" stroke="#000" stroke-width="1.3"/>
<rect x="705.31" y="534.76" width="6.3" height="6.3" fill="none" stroke="#000" stroke-width="1.3"/>
<rect x="742.65" y="519.81" width="6.3" height="6.3" fill="none" stroke="#000" stroke-width="1.3"/>
<rect x="779.99" y="527.78" width="6.3" height="6.3" fill="none" stroke="#000" stroke-width="1.3"/>
<rect x="817.33" y="519.81" width="6.3" height="6.3" fill="none" stroke="#000" stroke-width="1.3"/>
<rect x="854.67" y="549.72" width="6.3" height="6.3" fill="none" stroke="#000" stroke-width="1.3"/>
<rect x="892.01" y="514.82" width="6.3" height="6.3" fill="none" stroke="#000" stroke-width="1.3"/>
<rect x="929.35" y="514.33" width="6.3" height="6.3" fill="none" stroke="#000" stroke-width="1.3"/>
<rect x="592.64" y="501.21" width="7.6" height="7.6" fill="#000"/>
<rect x="629.98" y="520.75" width="7.6" height="7.6" fill="#000"/>
<rect x="667.32" y="500.22" width="7.6" height="7.6" fill="#000"/>
<rect x="704.66" y="512.18" width="7.6" height="7.6" fill="#000"/>
<rect x="742" y="510.19" width="7.6" height="7.6" fill="#000"/>
<rect x="779.34" y="499.72" width="7.6" height="7.6" fill="#000"/>
<rect x="816.68" y="512.18" width="7.6" height="7.6" fill="#000"/>
<rect x="854.02" y="510.19" width="7.6" height="7.6" fill="#000"/>
<rect x="891.36" y="503.71" width="7.6" height="7.6" fill="#000"/>
<rect x="928.7" y="499.22" width="7.6" height="7.6" fill="#000"/>
<rect x="592.64" y="534.11" width="7.6" height="7.6" fill="#000"/>
<rect x="629.98" y="550.56" width="7.6" height="7.6" fill="#000"/>
<rect x="667.32" y="585.96" width="7.6" height="7.6" fill="#000"/>
<rect x="704.66" y="585.96" width="7.6" height="7.6" fill="#000"/>
<rect x="742" y="561.03" width="7.6" height="7.6" fill="#000"/>
<rect x="779.34" y="562.03" width="7.6" height="7.6" fill="#000"/>
<rect x="816.68" y="553.06" width="7.6" height="7.6" fill="#000"/>
<rect x="854.02" y="560.04" width="7.6" height="7.6" fill="#000"/>
<rect x="891.36" y="555.05" width="7.6" height="7.6" fill="#000"/>
<rect x="928.7" y="556.05" width="7.6" height="7.6" fill="#000"/>
<rect x="592.64" y="547.08" width="7.6" height="7.6" fill="#000"/>
<rect x="629.98" y="572" width="7.6" height="7.6" fill="#000"/>
<rect x="667.32" y="571" width="7.6" height="7.6" fill="#000"/>
<rect x="704.66" y="584.96" width="7.6" height="7.6" fill="#000"/>
<rect x="742" y="561.03" width="7.6" height="7.6" fill="#000"/>
<rect x="779.34" y="538.1" width="7.6" height="7.6" fill="#000"/>
<rect x="816.68" y="564.02" width="7.6" height="7.6" fill="#000"/>
<rect x="854.02" y="560.04" width="7.6" height="7.6" fill="#000"/>
<rect x="891.36" y="535.11" width="7.6" height="7.6" fill="#000"/>
<rect x="928.7" y="544.08" width="7.6" height="7.6" fill="#000"/>
<rect x="592.64" y="534.11" width="7.6" height="7.6" fill="#000"/>
<rect x="629.98" y="549.07" width="7.6" height="7.6" fill="#000"/>
<rect x="667.32" y="607.89" width="7.6" height="7.6" fill="#000"/>
<rect x="704.66" y="632.82" width="7.6" height="7.6" fill="#000"/>
<rect x="742" y="645.78" width="7.6" height="7.6" fill="#000"/>
<rect x="779.34" y="632.82" width="7.6" height="7.6" fill="#000"/>
<rect x="816.68" y="620.85" width="7.6" height="7.6" fill="#000"/>
<rect x="854.02" y="611.88" width="7.6" height="7.6" fill="#000"/>
<rect x="891.36" y="605.9" width="7.6" height="7.6" fill="#000"/>
<rect x="928.7" y="605.9" width="7.6" height="7.6" fill="#000"/>
<rect x="592.64" y="510.19" width="7.6" height="7.6" fill="#000"/>
<rect x="629.98" y="524.14" width="7.6" height="7.6" fill="#000"/>
<rect x="667.32" y="510.19" width="7.6" height="7.6" fill="#000"/>
<rect x="704.66" y="545.08" width="7.6" height="7.6" fill="#000"/>
<rect x="742" y="534.11" width="7.6" height="7.6" fill="#000"/>
<rect x="779.34" y="531.12" width="7.6" height="7.6" fill="#000"/>
<rect x="816.68" y="523.15" width="7.6" height="7.6" fill="#000"/>
<rect x="854.02" y="513.18" width="7.6" height="7.6" fill="#000"/>
<rect x="891.36" y="535.11" width="7.6" height="7.6" fill="#000"/>
<rect x="928.7" y="536.11" width="7.6" height="7.6" fill="#000"/>
<rect x="592.64" y="522.15" width="7.6" height="7.6" fill="#000"/>
<rect x="629.98" y="522.15" width="7.6" height="7.6" fill="#000"/>
<rect x="667.32" y="534.11" width="7.6" height="7.6" fill="#000"/>
<rect x="704.66" y="545.08" width="7.6" height="7.6" fill="#000"/>
<rect x="742" y="519.16" width="7.6" height="7.6" fill="#000"/>
<rect x="779.34" y="524.14" width="7.6" height="7.6" fill="#000"/>
<rect x="816.68" y="525.14" width="7.6" height="7.6" fill="#000"/>
<rect x="854.02" y="526.14" width="7.6" height="7.6" fill="#000"/>
<rect x="891.36" y="514.17" width="7.6" height="7.6" fill="#000"/>
<rect x="928.7" y="536.11" width="7.6" height="7.6" fill="#000"/>
<circle cx="596.44" cy="511" r="3.15" fill="#fff" stroke="#000" stroke-width="1.3"/>
<circle cx="633.78" cy="532.93" r="3.15" fill="#fff" stroke="#000" stroke-width="1.3"/>
<circle cx="671.12" cy="520.37" r="3.15" fill="#fff" stroke="#000" stroke-width="1.3"/>
<circle cx="708.46" cy="519.97" r="3.15" fill="#fff" stroke="#000" stroke-width="1.3"/>
<circle cx="745.8" cy="528.94" r="3.15" fill="#fff" stroke="#000" stroke-width="1.3"/>
<circle cx="783.14" cy="516.98" r="3.15" fill="#fff" stroke="#000" stroke-width="1.3"/>
<circle cx="820.48" cy="511" r="3.15" fill="#fff" stroke="#000" stroke-width="1.3"/>
<circle cx="857.82" cy="525.95" r="3.15" fill="#fff" stroke="#000" stroke-width="1.3"/>
<circle cx="895.16" cy="507.01" r="3.15" fill="#fff" stroke="#000" stroke-width="1.3"/>
<circle cx="932.5" cy="511.99" r="3.15" fill="#fff" stroke="#000" stroke-width="1.3"/>
<circle cx="596.44" cy="517.97" r="3.15" fill="#fff" stroke="#000" stroke-width="1.3"/>
<circle cx="633.78" cy="530.93" r="3.15" fill="#fff" stroke="#000" stroke-width="1.3"/>
<circle cx="671.12" cy="529.34" r="3.15" fill="#fff" stroke="#000" stroke-width="1.3"/>
<circle cx="708.46" cy="545.89" r="3.15" fill="#fff" stroke="#000" stroke-width="1.3"/>
<circle cx="745.8" cy="541.9" r="3.15" fill="#fff" stroke="#000" stroke-width="1.3"/>
<circle cx="783.14" cy="520.97" r="3.15" fill="#fff" stroke="#000" stroke-width="1.3"/>
<circle cx="820.48" cy="515.98" r="3.15" fill="#fff" stroke="#000" stroke-width="1.3"/>
<circle cx="857.82" cy="534.92" r="3.15" fill="#fff" stroke="#000" stroke-width="1.3"/>
<circle cx="895.16" cy="523.46" r="3.15" fill="#fff" stroke="#000" stroke-width="1.3"/>
<circle cx="932.5" cy="523.46" r="3.15" fill="#fff" stroke="#000" stroke-width="1.3"/>
<circle cx="596.44" cy="523.26" r="3.15" fill="#fff" stroke="#000" stroke-width="1.3"/>
<circle cx="633.78" cy="542.9" r="3.15" fill="#fff" stroke="#000" stroke-width="1.3"/>
<circle cx="671.12" cy="550.88" r="3.15" fill="#fff" stroke="#000" stroke-width="1.3"/>
<circle cx="708.46" cy="545.89" r="3.15" fill="#fff" stroke="#000" stroke-width="1.3"/>
<circle cx="745.8" cy="541.9" r="3.15" fill="#fff" stroke="#000" stroke-width="1.3"/>
<circle cx="783.14" cy="557.85" r="3.15" fill="#fff" stroke="#000" stroke-width="1.3"/>
<circle cx="820.48" cy="546.39" r="3.15" fill="#fff" stroke="#000" stroke-width="1.3"/>
<circle cx="857.82" cy="525.95" r="3.15" fill="#fff" stroke="#000" stroke-width="1.3"/>
<circle cx="895.16" cy="530.93" r="3.15" fill="#fff" stroke="#000" stroke-width="1.3"/>
<circle cx="932.5" cy="531.93" r="3.15" fill="#fff" stroke="#000" stroke-width="1.3"/>
<circle cx="596.44" cy="530.93" r="3.15" fill="#fff" stroke="#000" stroke-width="1.3"/>
<circle cx="633.78" cy="560.85" r="3.15" fill="#fff" stroke="#000" stroke-width="1.3"/>
<circle cx="671.12" cy="557.85" r="3.15" fill="#fff" stroke="#000" stroke-width="1.3"/>
<circle cx="708.46" cy="557.85" r="3.15" fill="#fff" stroke="#000" stroke-width="1.3"/>
<circle cx="745.8" cy="554.86" r="3.15" fill="#fff" stroke="#000" stroke-width="1.3"/>
<circle cx="783.14" cy="550.88" r="3.15" fill="#fff" stroke="#000" stroke-width="1.3"/>
<circle cx="820.48" cy="575.8" r="3.15" fill="#fff" stroke="#000" stroke-width="1.3"/>
<circle cx="857.82" cy="569.82" r="3.15" fill="#fff" stroke="#000" stroke-width="1.3"/>
<circle cx="895.16" cy="563.84" r="3.15" fill="#fff" stroke="#000" stroke-width="1.3"/>
<circle cx="932.5" cy="552.37" r="3.15" fill="#fff" stroke="#000" stroke-width="1.3"/>
<rect x="555" y="472" width="8.2" height="8.2" fill="#000"/>
<circle cx="559.1" cy="476.1" r="3.35" fill="#fff" stroke="#000" stroke-width="1.3"/>
<rect x="566.25" y="631.75" width="6.5" height="6.5" fill="none" stroke="#000" stroke-width="1.3"/>
<circle cx="569.5" cy="650" r="3.25" fill="#fff" stroke="#000" stroke-width="1.3"/>
<rect x="565.6" y="661.4" width="7.8" height="7.8" fill="#000"/>
<text x="582.32" y="639.2" font-size="14.38" font-weight="normal" stroke="#000" stroke-width="0.3">MN&gt;40</text>
<text x="582.32" y="654" font-size="14.38" font-weight="normal" stroke="#000" stroke-width="0.3">MN&lt;40</text>
<text x="582.17" y="669" font-size="14.38" font-weight="normal" stroke="#000" stroke-width="0.3">IN05-IN05-VN04</text>
<line x1="77.6" y1="761.31" x2="77.6" y2="1014.9" stroke="#000" stroke-width="2"/>
<line x1="76.6" y1="1009.7" x2="450.8" y2="1009.7" stroke="#000" stroke-width="2"/>
<line x1="73.4" y1="1009.7" x2="77.6" y2="1009.7" stroke="#000" stroke-width="2"/>
<text x="0" y="0" transform="translate(72.2,1014.8) scale(1,1.06)" font-size="14.5" font-weight="bold" text-anchor="end" stroke="#000" stroke-width="0.55">70</text>
<line x1="73.4" y1="974.22" x2="77.6" y2="974.22" stroke="#000" stroke-width="2"/>
<text x="0" y="0" transform="translate(72.2,979.32) scale(1,1.06)" font-size="14.5" font-weight="bold" text-anchor="end" stroke="#000" stroke-width="0.55">75</text>
<line x1="73.4" y1="938.73" x2="77.6" y2="938.73" stroke="#000" stroke-width="2"/>
<text x="0" y="0" transform="translate(72.2,943.83) scale(1,1.06)" font-size="14.5" font-weight="bold" text-anchor="end" stroke="#000" stroke-width="0.55">80</text>
<line x1="73.4" y1="903.25" x2="77.6" y2="903.25" stroke="#000" stroke-width="2"/>
<text x="0" y="0" transform="translate(72.2,908.35) scale(1,1.06)" font-size="14.5" font-weight="bold" text-anchor="end" stroke="#000" stroke-width="0.55">85</text>
<line x1="73.4" y1="867.76" x2="77.6" y2="867.76" stroke="#000" stroke-width="2"/>
<text x="0" y="0" transform="translate(72.2,872.86) scale(1,1.06)" font-size="14.5" font-weight="bold" text-anchor="end" stroke="#000" stroke-width="0.55">90</text>
<line x1="73.4" y1="832.28" x2="77.6" y2="832.28" stroke="#000" stroke-width="2"/>
<text x="0" y="0" transform="translate(72.2,837.38) scale(1,1.06)" font-size="14.5" font-weight="bold" text-anchor="end" stroke="#000" stroke-width="0.55">95</text>
<line x1="73.4" y1="796.79" x2="77.6" y2="796.79" stroke="#000" stroke-width="2"/>
<text x="0" y="0" transform="translate(72.2,801.89) scale(1,1.06)" font-size="14.5" font-weight="bold" text-anchor="end" stroke="#000" stroke-width="0.55">100</text>
<line x1="73.4" y1="761.31" x2="77.6" y2="761.31" stroke="#000" stroke-width="2"/>
<text x="0" y="0" transform="translate(72.2,766.41) scale(1,1.06)" font-size="14.5" font-weight="bold" text-anchor="end" stroke="#000" stroke-width="0.55">105</text>
<text x="0" y="0" transform="translate(77.6,1026.5) scale(1,1.06)" font-size="14.5" font-weight="bold" text-anchor="middle" stroke="#000" stroke-width="0.55">0</text>
<line x1="114.82" y1="1009.7" x2="114.82" y2="1014.9" stroke="#000" stroke-width="2"/>
<text x="0" y="0" transform="translate(114.82,1026.5) scale(1,1.06)" font-size="14.5" font-weight="bold" text-anchor="middle" stroke="#000" stroke-width="0.55">1</text>
<line x1="152.04" y1="1009.7" x2="152.04" y2="1014.9" stroke="#000" stroke-width="2"/>
<text x="0" y="0" transform="translate(152.04,1026.5) scale(1,1.06)" font-size="14.5" font-weight="bold" text-anchor="middle" stroke="#000" stroke-width="0.55">2</text>
<line x1="189.26" y1="1009.7" x2="189.26" y2="1014.9" stroke="#000" stroke-width="2"/>
<text x="0" y="0" transform="translate(189.26,1026.5) scale(1,1.06)" font-size="14.5" font-weight="bold" text-anchor="middle" stroke="#000" stroke-width="0.55">3</text>
<line x1="226.48" y1="1009.7" x2="226.48" y2="1014.9" stroke="#000" stroke-width="2"/>
<text x="0" y="0" transform="translate(226.48,1026.5) scale(1,1.06)" font-size="14.5" font-weight="bold" text-anchor="middle" stroke="#000" stroke-width="0.55">4</text>
<line x1="263.7" y1="1009.7" x2="263.7" y2="1014.9" stroke="#000" stroke-width="2"/>
<text x="0" y="0" transform="translate(263.7,1026.5) scale(1,1.06)" font-size="14.5" font-weight="bold" text-anchor="middle" stroke="#000" stroke-width="0.55">5</text>
<line x1="300.92" y1="1009.7" x2="300.92" y2="1014.9" stroke="#000" stroke-width="2"/>
<text x="0" y="0" transform="translate(300.92,1026.5) scale(1,1.06)" font-size="14.5" font-weight="bold" text-anchor="middle" stroke="#000" stroke-width="0.55">6</text>
<line x1="338.14" y1="1009.7" x2="338.14" y2="1014.9" stroke="#000" stroke-width="2"/>
<text x="0" y="0" transform="translate(338.14,1026.5) scale(1,1.06)" font-size="14.5" font-weight="bold" text-anchor="middle" stroke="#000" stroke-width="0.55">7</text>
<line x1="375.36" y1="1009.7" x2="375.36" y2="1014.9" stroke="#000" stroke-width="2"/>
<text x="0" y="0" transform="translate(375.36,1026.5) scale(1,1.06)" font-size="14.5" font-weight="bold" text-anchor="middle" stroke="#000" stroke-width="0.55">8</text>
<line x1="412.58" y1="1009.7" x2="412.58" y2="1014.9" stroke="#000" stroke-width="2"/>
<text x="0" y="0" transform="translate(412.58,1026.5) scale(1,1.06)" font-size="14.5" font-weight="bold" text-anchor="middle" stroke="#000" stroke-width="0.55">9</text>
<line x1="449.8" y1="1009.7" x2="449.8" y2="1014.9" stroke="#000" stroke-width="2"/>
<text x="0" y="0" transform="translate(449.8,1026.5) scale(1,1.06)" font-size="14.5" font-weight="bold" text-anchor="middle" stroke="#000" stroke-width="0.55">10</text>
<text transform="translate(43.9,939.58) rotate(-90)" font-size="16" font-weight="bold" textLength="115.28" lengthAdjust="spacingAndGlyphs" stroke="#000" stroke-width="0.55">Percent weight</text>
<text x="189.42" y="1045.7" font-size="16" font-weight="bold" textLength="148.27" lengthAdjust="spacingAndGlyphs" stroke="#000" stroke-width="0.55">Days post infection</text>
<text x="205.19" y="758.6" font-size="16" font-weight="bold" textLength="118.4" lengthAdjust="spacingAndGlyphs" stroke="#000" stroke-width="0.55">VN04-CpG-CpG</text>
<polyline points="77.6,796.79 114.82,830.5 152.04,820.21 189.26,841.5 226.48,856.4 263.7,894.94 300.92,907.65 338.14,886.5 375.36,858.82 412.58,858.82 449.8,835.11" fill="none" stroke="#000" stroke-width="1.8" stroke-linejoin="round"/>
<polyline points="77.6,796.79 114.82,810.77 152.04,837.6 189.26,895.23 226.48,921.98 263.7,936.39 300.92,963 338.14,984.01 375.36,993.52 412.58,995.72 449.8,965.2" fill="none" stroke="#000" stroke-width="1.8" stroke-linejoin="round"/>
<polyline points="77.6,796.79 114.82,817.58 152.04,872.37 189.26,918.5 226.48,947.1" fill="none" stroke="#000" stroke-width="1.8" stroke-linejoin="round"/>
<polyline points="77.6,796.79 114.82,841 152.04,865.91 189.26,915.1 226.48,939.08 263.7,956.69 300.92,981.31 338.14,1005.02" fill="none" stroke="#000" stroke-width="1.8" stroke-linejoin="round"/>
<circle cx="114.82" cy="830.5" r="3.35" fill="#fff" stroke="#000" stroke-width="1.5"/>
<circle cx="152.04" cy="820.21" r="3.35" fill="#fff" stroke="#000" stroke-width="1.5"/>
<circle cx="189.26" cy="841.5" r="3.35" fill="#fff" stroke="#000" stroke-width="1.5"/>
<circle cx="226.48" cy="856.4" r="3.35" fill="#fff" stroke="#000" stroke-width="1.5"/>
<circle cx="263.7" cy="894.94" r="3.35" fill="#fff" stroke="#000" stroke-width="1.5"/>
<circle cx="300.92" cy="907.65" r="3.35" fill="#fff" stroke="#000" stroke-width="1.5"/>
<circle cx="338.14" cy="886.5" r="3.35" fill="#fff" stroke="#000" stroke-width="1.5"/>
<circle cx="375.36" cy="858.82" r="3.35" fill="#fff" stroke="#000" stroke-width="1.5"/>
<circle cx="412.58" cy="858.82" r="3.35" fill="#fff" stroke="#000" stroke-width="1.5"/>
<circle cx="449.8" cy="835.11" r="3.35" fill="#fff" stroke="#000" stroke-width="1.5"/>
<circle cx="114.82" cy="810.77" r="3.35" fill="#fff" stroke="#000" stroke-width="1.5"/>
<circle cx="152.04" cy="837.6" r="3.35" fill="#fff" stroke="#000" stroke-width="1.5"/>
<circle cx="189.26" cy="895.23" r="3.35" fill="#fff" stroke="#000" stroke-width="1.5"/>
<circle cx="226.48" cy="921.98" r="3.35" fill="#fff" stroke="#000" stroke-width="1.5"/>
<circle cx="263.7" cy="936.39" r="3.35" fill="#fff" stroke="#000" stroke-width="1.5"/>
<circle cx="300.92" cy="963" r="3.35" fill="#fff" stroke="#000" stroke-width="1.5"/>
<circle cx="338.14" cy="984.01" r="3.35" fill="#fff" stroke="#000" stroke-width="1.5"/>
<circle cx="375.36" cy="993.52" r="3.35" fill="#fff" stroke="#000" stroke-width="1.5"/>
<circle cx="412.58" cy="995.72" r="3.35" fill="#fff" stroke="#000" stroke-width="1.5"/>
<circle cx="449.8" cy="965.2" r="3.35" fill="#fff" stroke="#000" stroke-width="1.5"/>
<circle cx="114.82" cy="817.58" r="3.35" fill="#fff" stroke="#000" stroke-width="1.5"/>
<circle cx="152.04" cy="872.37" r="3.35" fill="#fff" stroke="#000" stroke-width="1.5"/>
<circle cx="189.26" cy="918.5" r="3.35" fill="#fff" stroke="#000" stroke-width="1.5"/>
<circle cx="226.48" cy="947.1" r="3.35" fill="#fff" stroke="#000" stroke-width="1.5"/>
<circle cx="114.82" cy="841" r="3.35" fill="#fff" stroke="#000" stroke-width="1.5"/>
<circle cx="152.04" cy="865.91" r="3.35" fill="#fff" stroke="#000" stroke-width="1.5"/>
<circle cx="189.26" cy="915.1" r="3.35" fill="#fff" stroke="#000" stroke-width="1.5"/>
<circle cx="226.48" cy="939.08" r="3.35" fill="#fff" stroke="#000" stroke-width="1.5"/>
<circle cx="263.7" cy="956.69" r="3.35" fill="#fff" stroke="#000" stroke-width="1.5"/>
<circle cx="300.92" cy="981.31" r="3.35" fill="#fff" stroke="#000" stroke-width="1.5"/>
<circle cx="338.14" cy="1005.02" r="3.35" fill="#fff" stroke="#000" stroke-width="1.5"/>
<circle cx="77.6" cy="796.79" r="3.55" fill="#fff" stroke="#000" stroke-width="1.5"/>
<circle cx="88.8" cy="994.7" r="3.3" fill="#fff" stroke="#000" stroke-width="1.4"/>
<text x="101.32" y="998.8" font-size="14.38" font-weight="normal" stroke="#000" stroke-width="0.3">MN&lt;40</text>
<rect x="47.62" y="94.25" width="3.4" height="4.35" fill="#fff"/>
<rect x="53.56" y="94.25" width="2.54" height="4.35" fill="#fff"/>
<rect x="109.95" y="351.75" width="3.4" height="4.35" fill="#fff"/>
<rect x="115.89" y="351.75" width="2.54" height="4.35" fill="#fff"/>
<rect x="437.74" y="351.75" width="3.4" height="4.35" fill="#fff"/>
<rect x="443.68" y="351.75" width="2.54" height="4.35" fill="#fff"/>
<rect x="529.42" y="88.54" width="3.4" height="4.35" fill="#fff"/>
<rect x="535.36" y="88.54" width="2.54" height="4.35" fill="#fff"/>
<rect x="593.01" y="355.35" width="3.4" height="4.35" fill="#fff"/>
<rect x="598.95" y="355.35" width="2.54" height="4.35" fill="#fff"/>
<rect x="932.14" y="355.35" width="3.4" height="4.35" fill="#fff"/>
<rect x="938.08" y="355.35" width="2.54" height="4.35" fill="#fff"/>
<rect x="47.02" y="479.35" width="3.4" height="4.35" fill="#fff"/>
<rect x="52.96" y="479.35" width="2.54" height="4.35" fill="#fff"/>
<rect x="47.02" y="429.5" width="3.4" height="4.35" fill="#fff"/>
<rect x="52.96" y="429.5" width="2.54" height="4.35" fill="#fff"/>
<rect x="110.41" y="691.15" width="3.4" height="4.35" fill="#fff"/>
<rect x="116.35" y="691.15" width="2.54" height="4.35" fill="#fff"/>
<rect x="442.34" y="691.15" width="3.4" height="4.35" fill="#fff"/>
<rect x="448.28" y="691.15" width="2.54" height="4.35" fill="#fff"/>
<rect x="529.52" y="478.35" width="3.4" height="4.35" fill="#fff"/>
<rect x="535.46" y="478.35" width="2.54" height="4.35" fill="#fff"/>
<rect x="529.52" y="428.5" width="3.4" height="4.35" fill="#fff"/>
<rect x="535.46" y="428.5" width="2.54" height="4.35" fill="#fff"/>
<rect x="592.12" y="689.75" width="3.4" height="4.35" fill="#fff"/>
<rect x="598.06" y="689.75" width="2.54" height="4.35" fill="#fff"/>
<rect x="924.14" y="689.75" width="3.4" height="4.35" fill="#fff"/>
<rect x="930.08" y="689.75" width="2.54" height="4.35" fill="#fff"/>
<rect x="47.72" y="799.04" width="3.4" height="4.35" fill="#fff"/>
<rect x="53.66" y="799.04" width="2.54" height="4.35" fill="#fff"/>
<rect x="47.72" y="763.55" width="3.4" height="4.35" fill="#fff"/>
<rect x="53.66" y="763.55" width="2.54" height="4.35" fill="#fff"/>
<rect x="110.5" y="1023.65" width="3.4" height="4.35" fill="#fff"/>
<rect x="116.44" y="1023.65" width="2.54" height="4.35" fill="#fff"/>
<rect x="441.44" y="1023.65" width="3.4" height="4.35" fill="#fff"/>
<rect x="447.38" y="1023.65" width="2.54" height="4.35" fill="#fff"/>
</svg>
</body></html>
